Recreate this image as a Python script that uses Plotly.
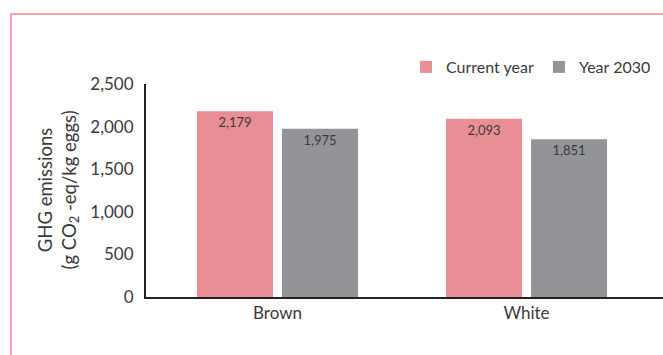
import plotly.graph_objects as go

categories = ["Brown", "White"]
current_year = [2179, 2093]
year_2030 = [1975, 1851]
current_labels = ["2,179", "2,093"]
y2030_labels = ["1,975", "1,851"]
y_ticks = [0, 500, 1000, 1500, 2000, 2500]
y_ticktext = ["0", "500", "1,000", "1,500", "2,000", "2,500"]

FONT = "Lato"
TXT = "#3a3a3a"
PINK = "#e98e94"
GRAY = "#939498"
BORDER = "#f2a5ab"

fig = go.Figure()
fig.add_trace(go.Bar(
    x=categories, y=current_year, name="Current year",
    marker=dict(color=PINK, line=dict(width=0)),
    text=current_labels, textposition="inside", insidetextanchor="end",
    textfont=dict(family=FONT, size=13, color=TXT), constraintext="none",
    textangle=0,
))
fig.add_trace(go.Bar(
    x=categories, y=year_2030, name="Year 2030",
    marker=dict(color=GRAY, line=dict(width=0)),
    text=y2030_labels, textposition="inside", insidetextanchor="end",
    textfont=dict(family=FONT, size=13, color=TXT), constraintext="none",
    textangle=0,
))

L, T, B = 146, 84, 58
W, H = 663, 355
pw = W - L
ph = H - T - B

def px_x(p):
    return (p - L) / pw

def px_y(p):
    return (H - B - p) / ph

fig.update_layout(
    width=W, height=H,
    margin=dict(l=L, r=0, t=T, b=B, pad=0),
    paper_bgcolor="white", plot_bgcolor="white",
    barmode="group", bargap=0.317, bargroupgap=0.106,
    font=dict(family=FONT, size=17, color=TXT),
    showlegend=True,
    legend=dict(
        orientation="h", x=px_x(656), xanchor="right", y=px_y(50), yanchor="top",
        font=dict(family=FONT, size=16, color=TXT), bgcolor="rgba(0,0,0,0)",
        itemwidth=30, traceorder="normal",
    ),
    xaxis=dict(
        range=[-0.528, 1.548], showline=True, linecolor="#222", linewidth=2,
        ticks="", showgrid=False, zeroline=False,
        tickfont=dict(family=FONT, size=17, color=TXT), ticklabelstandoff=0,
    ),
    yaxis=dict(
        range=[0, 2500], showline=True, linecolor="#222", linewidth=2,
        ticks="", showgrid=False, zeroline=False,
        tickvals=y_ticks, ticktext=y_ticktext,
        tickfont=dict(family=FONT, size=17, color=TXT), ticklabelstandoff=7,
    ),
    annotations=[dict(
        text="GHG emissions<br>(g CO<sub>2</sub> -eq/kg eggs)",
        xref="paper", yref="paper", x=px_x(58), y=0.5,
        xanchor="center", yanchor="middle", textangle=-90, showarrow=False,
        font=dict(family=FONT, size=18.5, color=TXT),
    )],
    shapes=[
        dict(type="line", xref="paper", yref="paper",
             x0=px_x(10), x1=px_x(700), y0=px_y(14), y1=px_y(14),
             line=dict(color=BORDER, width=2)),
        dict(type="line", xref="paper", yref="paper",
             x0=px_x(11), x1=px_x(11), y0=px_y(13), y1=px_y(400),
             line=dict(color=BORDER, width=2)),
    ],
)

fig.write_html("out.html")
